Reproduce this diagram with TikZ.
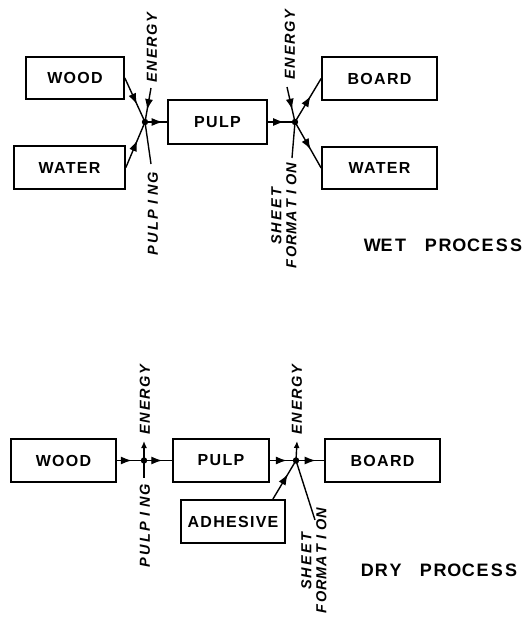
\documentclass[tikz,border=0pt]{standalone}
\usepackage{fontspec}
\setmainfont{Liberation Sans}
\usetikzlibrary{decorations.markings,arrows.meta}

\newlength\cw
\def\mono#1{\monoi#1\relax}
\def\monoi#1{\ifx#1\relax\else\makebox[\cw][c]{#1}\expandafter\monoi\fi}

\tikzset{
  procbox/.style={draw, line width=1.7pt, inner sep=0pt,
    font=\bfseries\addfontfeature{LetterSpace=8}\fontsize{16}{16}\selectfont},
  conn/.style={line width=1.4pt},
  midarrow/.style={postaction={decorate}, decoration={markings,
    mark=at position #1 with {\arrow{Latex[length=11pt,width=8pt]}}}},
  midarrow/.default=0.5,
  endarrow/.style={-{Latex[length=7pt,width=6pt]}},
  lbl/.style={inner sep=0pt, rotate=90, font=\bfseries\itshape\fontsize{14.5}{15}\selectfont, align=center},
  title/.style={inner sep=0pt, anchor=west, font=\bfseries\fontsize{18}{18}\selectfont},
  jdot/.style={fill=black}
}

\begin{document}
\begin{tikzpicture}[x=1pt,y=-1pt]
\fill[white] (0,0) rectangle (525,624);
\useasboundingbox (0,0) rectangle (525,624);

% ---------- WET PROCESS ----------
\node[procbox, minimum width=98pt, minimum height=42pt] (wood1) at (75,78) {WOOD};
\node[procbox, minimum width=111pt, minimum height=43pt] (water1) at (69.5,167.5) {WATER};
\node[procbox, minimum width=99pt, minimum height=44pt] (pulp1) at (217.5,122) {PULP};
\node[procbox, minimum width=115pt, minimum height=43pt] (board1) at (379.5,78.5) {BOARD};
\node[procbox, minimum width=115pt, minimum height=42pt] (water2) at (379.5,168) {WATER};

\coordinate (j1) at (145,122);
\coordinate (j2) at (295,122);
\coordinate (e1) at (151,88);
\coordinate (p1) at (151,164);
\coordinate (e2) at (287,87);
\coordinate (s1) at (292,158);

\draw[conn, midarrow=0.6] (wood1.east) -- (j1);
\draw[conn, midarrow=0.6] (water1.east) -- (j1);
\draw[conn, midarrow=0.8] (j1) -- (pulp1.west);
\draw[conn, midarrow=0.65] (e1) -- (j1);
\draw[conn] (j1) -- (p1);
\draw[conn, midarrow=0.6] (pulp1.east) -- (j2);
\draw[conn, midarrow=0.65] (e2) -- (j2);
\draw[conn] (j2) -- (s1);
\draw[conn, midarrow=0.6] (j2) -- (board1.west);
\draw[conn, midarrow=0.6] (j2) -- (water2.west);
\fill[jdot] (j1) circle (3.2pt);
\fill[jdot] (j2) circle (3.2pt);

\setlength\cw{12pt}
\node[lbl, anchor=west] (en1) at (152,84) {\mono{ENERGY}};
\node[lbl, anchor=east] (pu1) at (153,172) {\mono{PULPING}};
\node[lbl, anchor=west] (en2) at (290,81) {\mono{ENERGY}};
\node[lbl] (sf1) at (284,216) {\mono{SHEET}\\\mono{FORMATION}};

\setlength\cw{14.2pt}
\node[title] (wet) at (365,245) {\mono{WET}\hspace{16pt}\mono{PROCESS}};

% ---------- DRY PROCESS ----------
\node[procbox, minimum width=105pt, minimum height=43pt] (wood2) at (63.5,460.5) {WOOD};
\node[procbox, minimum width=96pt, minimum height=43pt] (pulp2) at (221,460.5) {PULP};
\node[procbox, minimum width=115pt, minimum height=43pt] (board2) at (382.5,460.5) {BOARD};
\node[procbox, minimum width=104pt, minimum height=43pt] (adh) at (233,521.5) {ADHESIVE};

\coordinate (j3) at (144,460.5);
\coordinate (j4) at (296,460.5);
\coordinate (e3) at (144,441);
\coordinate (p3) at (144,478);
\coordinate (e4) at (297,441);
\coordinate (s4) at (315,520);

\draw[conn, midarrow=0.55] (wood2.east) -- (j3);
\draw[conn, midarrow=0.65] (j3) -- (pulp2.west);
\draw[conn, endarrow] (j3) -- (e3);
\draw[conn] (j3) -- (p3);
\draw[conn, midarrow=0.65] (pulp2.east) -- (j4);
\draw[conn, midarrow=0.7] (j4) -- (board2.west);
\draw[conn, endarrow] (j4) -- (e4);
\draw[conn] (j4) -- (s4);
\draw[conn, midarrow=0.65] ([xshift=-13pt]adh.north east) -- (j4);
\fill[jdot] (j3) circle (3.2pt);
\fill[jdot] (j4) circle (3.2pt);

\setlength\cw{12pt}
\node[lbl, anchor=west] (en3) at (145,436) {\mono{ENERGY}};
\node[lbl, anchor=east] (pu3) at (145,484) {\mono{PULPING}};
\node[lbl, anchor=west] (en4) at (297,436) {\mono{ENERGY}};
\node[lbl] (sf4) at (314,561) {\mono{SHEET}\\\mono{FORMATION}};

\setlength\cw{14.2pt}
\node[title] (dry) at (360,570) {\mono{DRY}\hspace{16pt}\mono{PROCESS}};
\end{tikzpicture}
\end{document}
